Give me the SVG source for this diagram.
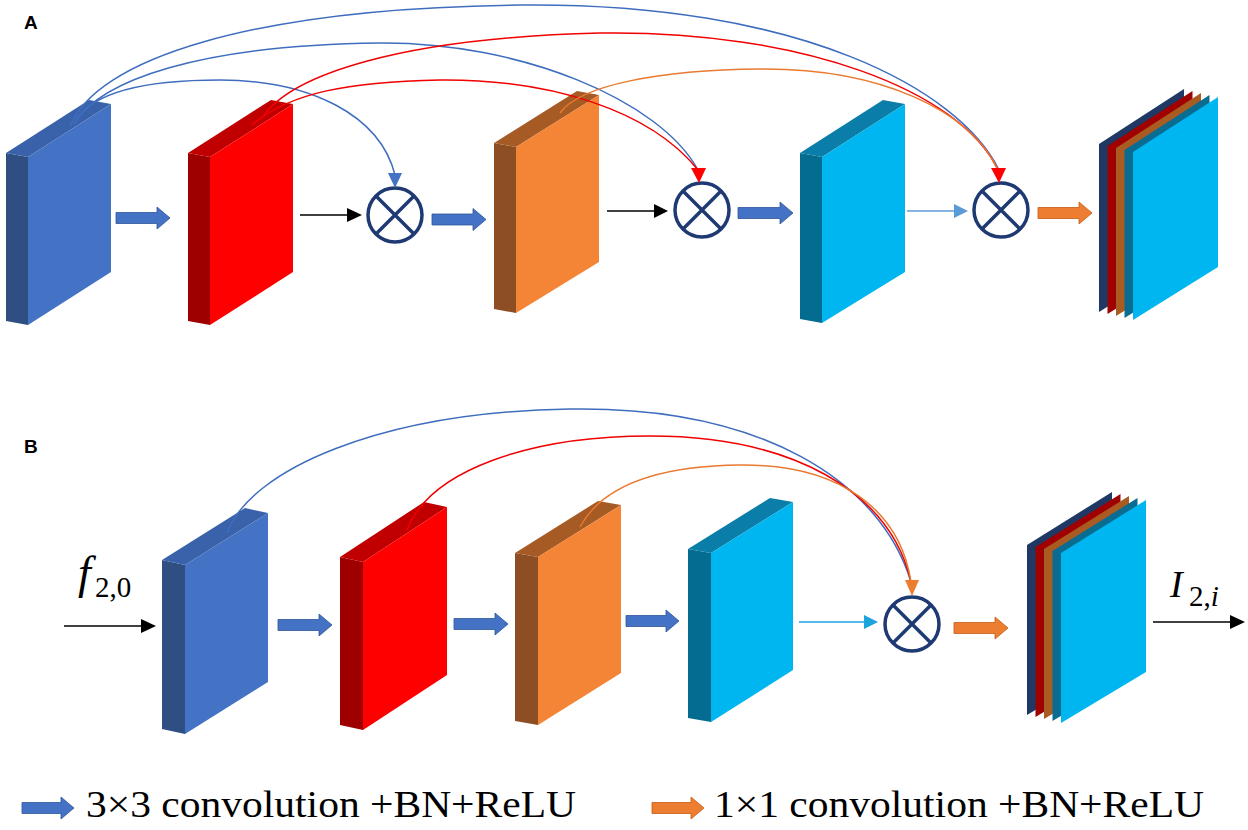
<svg xmlns="http://www.w3.org/2000/svg" width="1248" height="830" viewBox="0 0 1248 830">
<defs>
<style>
.bf{fill:#4472C4}.bs{fill:#2F4F82}.bt{fill:#3A62AA}
.rf{fill:#FF0000}.rs{fill:#9E0000}.rt{fill:#C00000}
.of{fill:#F58536}.os{fill:#8C4E22}.ot{fill:#A65A24}
.cf{fill:#00B6F0}.cs{fill:#046C90}.ct{fill:#0A7DA8}
.navy{fill:#1F3864}.dred{fill:#A00000}.brn{fill:#A95B22}.teal{fill:#0A6C90}
.circ{fill:#fff;stroke:#1F3A73;stroke-width:3.5}
.x{stroke:#1F3A73;stroke-width:3.5}
.fatb{fill:#4472C4;stroke:#2F5597;stroke-width:0.8}
.fato{fill:#ED7D31;stroke:#C55A11;stroke-width:0.8}
.cb{fill:none;stroke:#3F6DBE;stroke-width:1.5}
.cr{fill:none;stroke:#F00000;stroke-width:1.5}
.co{fill:none;stroke:#E97A30;stroke-width:1.5}
.lbl{font-family:"Liberation Sans",Arial,sans-serif;font-weight:bold;font-size:19px;fill:#000}
</style>
</defs>
<rect width="1248" height="830" fill="#fff"/>

<text class="lbl" x="24" y="29">A</text>
<text class="lbl" x="24" y="453">B</text>

<!-- Panel A blocks -->
<g id="a-block1">
<polygon class="bs" points="6,153 28,157 28,325 6,321"/>
<polygon class="bt" points="6,153 89,100 111,104 28,157"/>
<polygon class="bf" points="28,157 111,104 111,272 28,325"/>
</g>
<g id="a-block2">
<polygon class="rs" points="188,153 210,157 210,325 188,321"/>
<polygon class="rt" points="188,153 271,100 293,104 210,157"/>
<polygon class="rf" points="210,157 293,104 293,272 210,325"/>
</g>
<g id="a-block3">
<polygon class="os" points="494,143 516,147 516,313 494,309"/>
<polygon class="ot" points="494,143 577,91 599,95 516,147"/>
<polygon class="of" points="516,147 599,95 599,262 516,313"/>
</g>
<g id="a-block4">
<polygon class="cs" points="800,153 822,157 822,323 800,319"/>
<polygon class="ct" points="800,153 883,100 905,104 822,157"/>
<polygon class="cf" points="822,157 905,104 905,272 822,323"/>
</g>
<g id="a-block5">
<polygon class="navy" points="1133,152 1218,97 1218,267 1133,320" transform="translate(-34,-8)"/>
<polygon class="dred" points="1133,152 1218,97 1218,267 1133,320" transform="translate(-25.5,-6)"/>
<polygon class="brn" points="1133,152 1218,97 1218,267 1133,320" transform="translate(-17,-4)"/>
<polygon class="teal" points="1133,152 1218,97 1218,267 1133,320" transform="translate(-8.5,-2)"/>
<polygon class="cf" points="1133,152 1218,97 1218,267 1133,320"/>
</g>

<!-- Panel A operators -->
<g id="a-mul1"><circle class="circ" cx="395" cy="215" r="27"/><path class="x" d="M376,196 L414,234 M414,196 L376,234"/></g>
<g id="a-mul2"><circle class="circ" cx="702" cy="210" r="27"/><path class="x" d="M683,191 L721,229 M721,191 L683,229"/></g>
<g id="a-mul3"><circle class="circ" cx="1001" cy="210" r="27"/><path class="x" d="M982,191 L1020,229 M1020,191 L982,229"/></g>

<!-- Panel B blocks -->
<g id="b-block1">
<polygon class="bs" points="162,560 185,565 185,734 162,729"/>
<polygon class="bt" points="162,560 245,508 268,513 185,565"/>
<polygon class="bf" points="185,565 268,513 268,682 185,734"/>
</g>
<g id="b-block2">
<polygon class="rs" points="340,557 363,562 363,730 340,725"/>
<polygon class="rt" points="340,557 424,502 447,507 363,562"/>
<polygon class="rf" points="363,562 447,507 447,675 363,730"/>
</g>
<g id="b-block3">
<polygon class="os" points="515,553 538,557 538,725 515,721"/>
<polygon class="ot" points="515,553 598,501 621,505 538,557"/>
<polygon class="of" points="538,557 621,505 621,673 538,725"/>
</g>
<g id="b-block4">
<polygon class="cs" points="688,549 711,553 711,722 688,718"/>
<polygon class="ct" points="688,549 770,498 793,502 711,553"/>
<polygon class="cf" points="711,553 793,502 793,670 711,722"/>
</g>
<g id="b-block5">
<polygon class="navy" points="1061,553 1146,500 1146,672 1061,723" transform="translate(-34,-8)"/>
<polygon class="dred" points="1061,553 1146,500 1146,672 1061,723" transform="translate(-25.5,-6)"/>
<polygon class="brn" points="1061,553 1146,500 1146,672 1061,723" transform="translate(-17,-4)"/>
<polygon class="teal" points="1061,553 1146,500 1146,672 1061,723" transform="translate(-8.5,-2)"/>
<polygon class="cf" points="1061,553 1146,500 1146,672 1061,723"/>
</g>
<g id="b-mul"><circle class="circ" cx="912" cy="624" r="27"/><path class="x" d="M893,605 L931,643 M931,605 L893,643"/></g>

<!-- Connectors -->
<g id="connectors">
<path class="fatb" d="M116,212.5 H157 V207 L170,218 L157,229 V223.5 H116 Z"/>
<path class="fatb" d="M432,214 H473 V208.5 L486,219.5 L473,230.5 V225 H432 Z"/>
<path class="fatb" d="M738,207.5 H780 V202 L793,213 L780,224 V218.5 H738 Z"/>
<path class="fato" d="M1038,207.5 H1079 V202 L1092,213 L1079,224 V218.5 H1038 Z"/>
<line x1="300" y1="215" x2="349" y2="215" stroke="#000" stroke-width="1.5"/>
<polygon points="347,208 362,215 347,222" fill="#000"/>
<line x1="607" y1="211" x2="656" y2="211" stroke="#000" stroke-width="1.5"/>
<polygon points="654,204 668,211 654,218" fill="#000"/>
<line x1="907" y1="211" x2="956" y2="211" stroke="#5B9BD5" stroke-width="1.5"/>
<polygon points="954,204 968,211 954,218" fill="#5B9BD5"/>
<path class="cb" d="M70,127 C 95,60 250,8 520,5 C 800,2 960,90 999,170"/>
<path class="cb" d="M74,124 C 100,80 200,45 380,43 C 520,42 660,100 698,170"/>
<path class="cb" d="M76,120 C 95,90 150,80 220,80 C 310,80 380,115 395,175"/>
<polygon points="388,173 402,173 395,188" fill="#4472C4"/>
<path class="cr" d="M262,118 C 290,75 400,38 600,33 C 800,30 960,90 998,170"/>
<path class="cr" d="M252,125 C 290,92 350,82 440,80 C 550,79 650,110 698,170"/>
<path class="co" d="M560,113 C 580,85 660,70 760,69 C 880,68 970,110 998,170"/>
<polygon points="691,168 706,168 699,183" fill="#FF0000"/>
<polygon points="991,168 1006,168 999,183" fill="#FF0000"/>
<line x1="64" y1="626" x2="143" y2="626" stroke="#000" stroke-width="1.5"/>
<polygon points="141,619 156,626 141,633" fill="#000"/>
<path class="fatb" d="M278,619.5 H319 V614 L332,625 L319,636 V630.5 H278 Z"/>
<path class="fatb" d="M454,618.5 H495 V613 L508,624 L495,635 V629.5 H454 Z"/>
<path class="fatb" d="M626,615.5 H666 V610 L679,621 L666,632 V626.5 H626 Z"/>
<line x1="799" y1="622" x2="866" y2="622" stroke="#1CA3DC" stroke-width="1.5"/>
<polygon points="864,615 878,622 864,629" fill="#1CA3DC"/>
<path class="fato" d="M954,622.5 H995 V617 L1008,628 L995,639 V633.5 H954 Z"/>
<line x1="1153" y1="622" x2="1232" y2="622" stroke="#000" stroke-width="1.5"/>
<polygon points="1230,615 1245,622 1230,629" fill="#000"/>
<path class="cb" d="M227,533 C 250,470 380,412 570,409 C 760,406 880,480 911,582"/>
<path class="cr" d="M407,530 C 430,470 530,436 650,436 C 790,436 890,490 911,582"/>
<path class="co" d="M580,527 C 600,490 650,466 740,465 C 840,464 900,510 911,582"/>
<polygon points="905,580 919,580 912,596" fill="#ED7D31"/>
</g>

<!-- Math labels -->
<text x="78" y="588" font-family="Liberation Serif, Times New Roman, serif" font-size="46" font-style="italic" fill="#000">f</text>
<text x="95" y="597" font-family="Liberation Serif, Times New Roman, serif" font-size="29" fill="#000">2,0</text>
<text x="1170" y="597" font-family="Liberation Serif, Times New Roman, serif" font-size="38" font-style="italic" fill="#000">I</text>
<text x="1189" y="606" font-family="Liberation Serif, Times New Roman, serif" font-size="29" fill="#000">2,<tspan font-style="italic">i</tspan></text>

<!-- Legend -->
<g id="legend">
<path class="fatb" d="M22,802.5 H61 V797 L74,808 L61,819 V813.5 H22 Z"/>
<text x="86" y="817" font-family="Liberation Serif, Times New Roman, serif" font-size="38" fill="#000" textLength="490" lengthAdjust="spacingAndGlyphs">3×3 convolution +BN+ReLU</text>
<path class="fato" d="M652,802.5 H691 V797 L704,808 L691,819 V813.5 H652 Z"/>
<text x="714" y="817" font-family="Liberation Serif, Times New Roman, serif" font-size="38" fill="#000" textLength="490" lengthAdjust="spacingAndGlyphs">1×1 convolution +BN+ReLU</text>
</g>
</svg>
